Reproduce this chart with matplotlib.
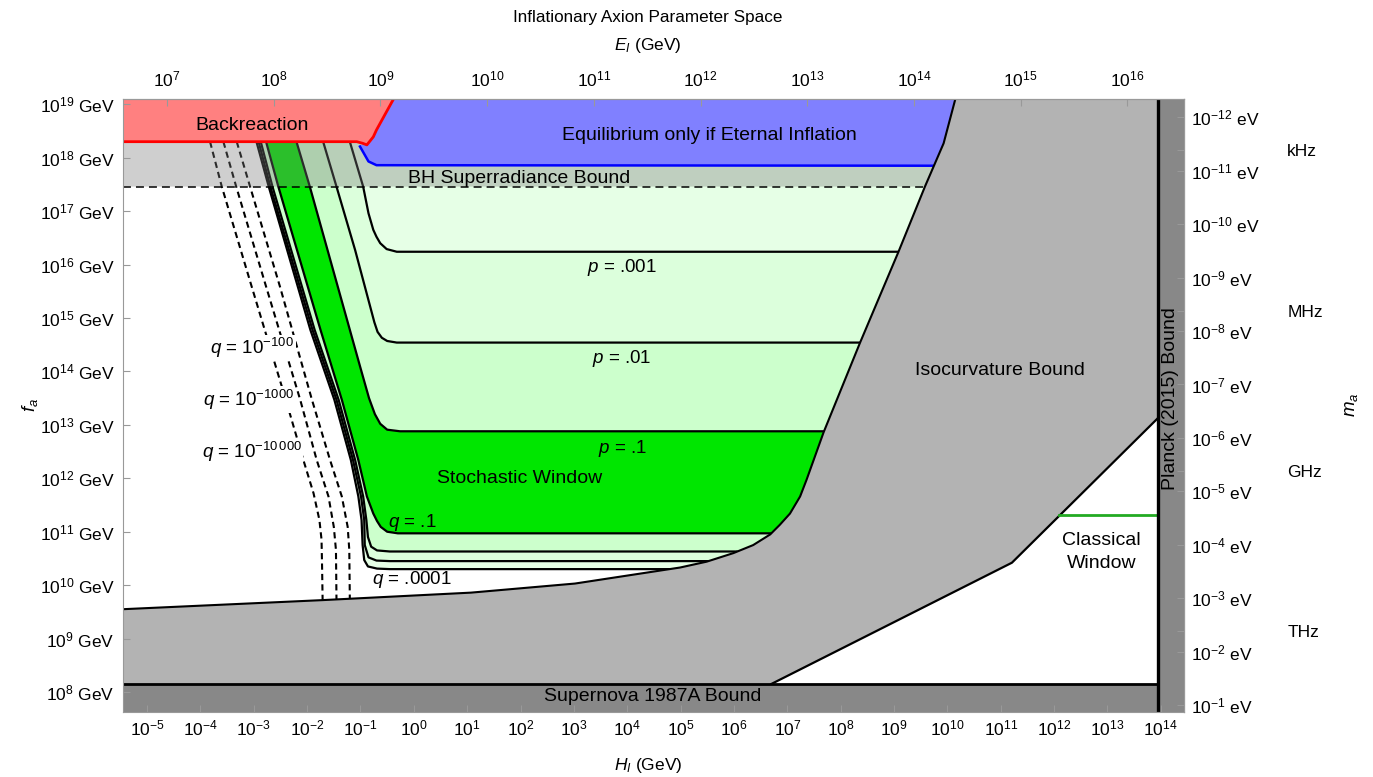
import numpy as np
import matplotlib
matplotlib.use("Agg")
import matplotlib.pyplot as plt
from matplotlib.ticker import FixedLocator, FuncFormatter, NullLocator

plt.rcParams['font.family'] = ['Liberation Sans', 'DejaVu Sans']
plt.rcParams['mathtext.fontset'] = 'custom'
plt.rcParams['mathtext.rm'] = 'Liberation Sans'
plt.rcParams['mathtext.it'] = 'Liberation Sans:italic'
plt.rcParams['mathtext.bf'] = 'Liberation Sans:bold'

# all curve values are log10 of GeV: x = H_I, y = f_a
M_PL = 2.435e18      # reduced Planck mass (GeV)
MA_FA = 5.7e6        # m_a * f_a (eV GeV)
H_PLANCK = 4.1357e-15  # eV s

X0, X1 = -5.451, 14.442
Y0, Y1 = 7.631, 19.099

# isocurvature bound
iso_h = np.array([-5.45, -1.71, 1.07, 3.02, 4.99, 5.49, 5.99, 6.36, 6.68, 6.86,
                  7.05, 7.24, 7.36, 7.68, 8.36, 9.08, 9.58, 9.74, 9.93, 10.15])
iso_f = np.array([9.55, 9.72, 9.86, 10.03, 10.33, 10.44, 10.60, 10.75, 10.95, 11.13,
                  11.34, 11.66, 11.97, 12.86, 14.53, 16.23, 17.46, 17.83, 18.27, 19.10])

# stochastic window contours (p = probability, q = fraction)
p001_h = [-1.20, -0.95, -0.85, -0.76, -0.70, -0.63, -0.51, -0.32, 9.08]
p001_f = [18.30, 17.46, 16.96, 16.65, 16.52, 16.40, 16.29, 16.24, 16.24]
p01_h = [-1.70, -1.45, -1.10, -0.74, -0.68, -0.60, -0.50, -0.32, 8.36]
p01_f = [18.30, 17.46, 16.27, 14.92, 14.74, 14.63, 14.57, 14.54, 14.54]
p1_h = [-2.20, -1.95, -1.20, -1.01, -0.84, -0.73, -0.63, -0.50, -0.26, 7.68]
p1_f = [18.30, 17.46, 14.78, 14.10, 13.50, 13.20, 13.02, 12.91, 12.88, 12.88]

q1_h = [-2.77, -2.54, -1.75, -1.35, -1.04, -0.88, -0.76, -0.69, -0.62, -0.50, -0.30, 6.68]
q1_f = [18.30, 17.46, 14.78, 13.47, 12.34, 11.66, 11.34, 11.20, 11.09, 11.00, 10.97, 10.97]
q01_h = [-2.87, -2.65, -1.86, -1.41, -1.10, -0.95, -0.89, -0.86, -0.80, -0.69, -0.45, 6.05]
q01_f = [18.30, 17.46, 14.78, 13.47, 12.34, 11.66, 11.22, 10.90, 10.72, 10.65, 10.63, 10.63]
q001_h = [-2.91, -2.69, -1.90, -1.45, -1.14, -0.99, -0.93, -0.92, -0.85, -0.70, -0.45, 5.51]
q001_f = [18.30, 17.46, 14.78, 13.47, 12.34, 11.66, 11.22, 10.75, 10.52, 10.46, 10.45, 10.45]
q0001_h = [-2.95, -2.72, -1.94, -1.49, -1.18, -1.04, -0.98, -0.96, -0.93, -0.86, -0.69, -0.45, 4.79]
q0001_f = [18.30, 17.46, 14.78, 13.47, 12.34, 11.66, 11.22, 10.75, 10.47, 10.35, 10.31, 10.30, 10.30]

# q = 10^-100, 10^-1000, 10^-10000 (dashed)
qd1_h = [-3.82, -3.60, -3.04, -2.40, -2.07, -1.88, -1.77, -1.73, -1.72, -1.71]
qd1_f = [18.30, 17.46, 15.59, 13.47, 12.34, 11.72, 11.22, 10.85, 10.35, 9.72]
qd2_h = [-3.57, -3.33, -2.77, -2.13, -1.82, -1.60, -1.50, -1.46, -1.45]
qd2_f = [18.30, 17.46, 15.59, 13.47, 12.34, 11.66, 11.09, 10.66, 9.73]
qd3_h = [-3.32, -3.07, -2.51, -1.91, -1.57, -1.35, -1.24, -1.21, -1.20]
qd3_f = [18.30, 17.46, 15.59, 13.47, 12.34, 11.66, 11.09, 10.66, 9.74]

# backreaction and eternal inflation
red_h = [X0, -1.07, -0.96, -0.88, -0.76, -0.70, -0.38]
red_f = [18.30, 18.30, 18.27, 18.24, 18.39, 18.52, 19.10]
blue_h = [-1.01, -0.85, -0.70, 9.74]
blue_f = [18.21, 17.93, 17.86, 17.85]

superrad_f = 17.46
sn_f = 8.15
planck_h = 13.94
cw_h = [6.70, 11.21, 13.94]
cw_f = [8.15, 10.42, 13.12]
cw_top_h = [12.10, 13.94]
cw_top_f = [11.31, 11.31]

freq_names = ['kHz', 'MHz', 'GHz', 'THz']
freq_hz = [1e3, 1e6, 1e9, 1e12]


def pw(a):
    return np.power(10.0, np.asarray(a, dtype=float))


def band(ax, low_h, low_f, up_h, up_f, color, z):
    # area between two contours, closed along the isocurvature edge
    sel = (iso_f > low_f[-1]) & (iso_f < up_f[-1])
    xs = np.concatenate([low_h, iso_h[sel], up_h[::-1]])
    ys = np.concatenate([low_f, iso_f[sel], up_f[::-1]])
    ax.fill(pw(xs), pw(ys), color=color, lw=0, zorder=z)


def exp_label(suffix=''):
    return FuncFormatter(lambda v, p: f'$10^{{{int(round(np.log10(v)))}}}${suffix}')


fig = plt.figure(figsize=(13.73, 7.77), dpi=100)
ax = fig.add_axes([0.0896, 0.0840, 0.7730, 0.7886])
ax.set_xscale('log')
ax.set_yscale('log')
ax.set_xlim(pw(X0), pw(X1))
ax.set_ylim(pw(Y0), pw(Y1))

# green regions
top_sel = (iso_f > p001_f[-1]) & (iso_f < 18.30)
ax.fill(pw(np.concatenate([p001_h, iso_h[top_sel]])),
        pw(np.concatenate([p001_f, iso_f[top_sel]])), color='#e6ffe6', lw=0, zorder=1)
band(ax, p01_h, p01_f, p001_h, p001_f, '#dcffdc', 1)
band(ax, p1_h, p1_f, p01_h, p01_f, '#ccffcc', 1)
band(ax, q1_h, q1_f, p1_h, p1_f, '#00e600', 1)
band(ax, q01_h, q01_f, q1_h, q1_f, '#ccffcc', 1)
band(ax, q001_h, q001_f, q01_h, q01_f, '#dcffdc', 1)
band(ax, q0001_h, q0001_f, q001_h, q001_f, '#e6ffe6', 1)

for hh, ff in [(p001_h, p001_f), (p01_h, p01_f), (p1_h, p1_f), (q1_h, q1_f),
               (q01_h, q01_f), (q001_h, q001_f), (q0001_h, q0001_f)]:
    ax.plot(pw(hh), pw(ff), color='black', lw=1.6, zorder=3, solid_joinstyle='round')
for hh, ff in [(qd1_h, qd1_f), (qd2_h, qd2_f), (qd3_h, qd3_f)]:
    ax.plot(pw(hh), pw(ff), color='black', lw=1.5, ls=(0, (3.0, 2.0)), zorder=3)

# superradiance band (translucent grey)
sr_sel = (iso_f >= superrad_f) & (iso_f <= 18.30)
ax.fill(pw(np.concatenate([[X0], iso_h[sr_sel], [X0]])),
        pw(np.concatenate([[superrad_f], iso_f[sr_sel], [18.30]])),
        color='#7a7a7a', alpha=0.36, lw=0, zorder=4)
ax.plot(pw([X0, iso_h[sr_sel][0]]), pw([superrad_f, superrad_f]),
        color='black', lw=1.1, ls=(0, (5.2, 3.3)), zorder=5)

# eternal inflation (blue) and backreaction (red)
bl_sel = iso_f > blue_f[-1]
red_h_arr = np.array(red_h)
red_f_arr = np.array(red_f)
rsel = red_h_arr > blue_h[0]
ax.fill(pw(np.concatenate([blue_h, iso_h[bl_sel], red_h_arr[rsel][::-1]])),
        pw(np.concatenate([blue_f, iso_f[bl_sel], red_f_arr[rsel][::-1]])),
        color='#8080ff', lw=0, zorder=6)
ax.plot(pw(blue_h), pw(blue_f), color='#0000ff', lw=1.8, zorder=7)
ax.fill(pw(np.concatenate([red_h, [X0]])), pw(np.concatenate([red_f, [Y1 + 0.1]])),
        color='#ff8080', lw=0, zorder=6)
ax.plot(pw(red_h), pw(red_f), color='#ff0000', lw=2, zorder=7)

# isocurvature bound
ax.fill(pw(np.concatenate([iso_h, [X1 + 0.1, X1 + 0.1, X0]])),
        pw(np.concatenate([iso_f, [Y1 + 0.1, Y0 - 0.1, Y0 - 0.1]])),
        color='#b3b3b3', lw=0, zorder=8)
ax.plot(pw(iso_h), pw(iso_f), color='black', lw=1.5, zorder=9)

# classical window
ax.fill(pw(cw_h + [cw_h[-1]]), pw(cw_f + [cw_f[0]]), color='white', lw=0, zorder=9)
ax.plot(pw(cw_h), pw(cw_f), color='black', lw=1.6, zorder=10)
ax.plot(pw(cw_top_h), pw(cw_top_f), color='#22aa22', lw=2, zorder=10)

# supernova and planck bounds
ax.fill_between(pw([X0 - 0.1, X1 + 0.1]), pw(Y0 - 0.1), pw(sn_f), color='#888888', lw=0, zorder=11)
ax.plot(pw([X0, planck_h]), pw([sn_f, sn_f]), color='black', lw=2, zorder=12)
ax.fill_betweenx(pw([Y0 - 0.1, Y1 + 0.1]), pw(planck_h), pw(X1 + 0.1), color='#888888', lw=0, zorder=11)
ax.plot(pw([planck_h, planck_h]), pw([Y0 - 0.1, Y1 + 0.1]), color='black', lw=2.4, zorder=12)

# region labels
big = 14
ax.text(pw(-3.03), pw(18.61), 'Backreaction', fontsize=big, ha='center', va='center', zorder=20)
ax.text(pw(5.53), pw(18.41), 'Equilibrium only if Eternal Inflation', fontsize=big,
        ha='center', va='center', zorder=20)
ax.text(pw(1.98), pw(17.62), 'BH Superradiance Bound', fontsize=big, ha='center', va='center', zorder=20)
ax.text(pw(10.98), pw(14.01), 'Isocurvature Bound', fontsize=big, ha='center', va='center', zorder=20)
ax.text(pw(1.98), pw(11.99), 'Stochastic Window', fontsize=big, ha='center', va='center', zorder=20)
ax.text(pw(12.89), pw(10.62), 'Classical\nWindow', fontsize=big, ha='center', va='center',
        linespacing=1.45, zorder=20)
ax.text(pw(4.47), pw(7.91), 'Supernova 1987A Bound', fontsize=big, ha='center', va='center', zorder=20)
ax.text(pw(14.18), pw(13.50), 'Planck (2015) Bound', fontsize=big, ha='center', va='center',
        rotation=90, zorder=20)

# contour labels
ax.text(pw(3.90), pw(15.94), '$p$ = .001', fontsize=13.5, ha='center', va='center', zorder=20)
ax.text(pw(3.90), pw(14.25), '$p$ = .01', fontsize=13.5, ha='center', va='center', zorder=20)
ax.text(pw(3.92), pw(12.55), '$p$ = .1', fontsize=13.5, ha='center', va='center', zorder=20)
ax.text(pw(-0.03), pw(11.18), '$q$ = .1', fontsize=13.5, ha='center', va='center', zorder=20)
ax.text(pw(-0.03), pw(10.10), '$q$ = .0001', fontsize=13.5, ha='center', va='center', zorder=20)
mask = dict(facecolor='white', edgecolor='none', pad=1.0)
ax.text(pw(-2.24), pw(14.44), '$q$ = $10^{-100}$', fontsize=13.5, ha='right', va='center',
        bbox=mask, zorder=20)
ax.text(pw(-2.25), pw(13.47), '$q$ = $10^{-1000}$', fontsize=13.5, ha='right', va='center',
        bbox=mask, zorder=20)
ax.text(pw(-2.10), pw(12.49), r'$q$ = $10^{-10\,000}$', fontsize=13.5, ha='right', va='center',
        bbox=mask, zorder=20)

# axes styling
tick_kw = dict(direction='in', length=5, width=0.8, color='#999999', labelsize=12.5)
for s in ax.spines.values():
    s.set_color('#999999')
    s.set_zorder(30)
ax.xaxis.set_zorder(30)
ax.yaxis.set_zorder(30)
ax.xaxis.set_major_locator(FixedLocator(pw(np.arange(-5, 15))))
ax.xaxis.set_minor_locator(NullLocator())
ax.xaxis.set_major_formatter(exp_label())
ax.yaxis.set_major_locator(FixedLocator(pw(np.arange(8, 20))))
ax.yaxis.set_minor_locator(NullLocator())
ax.yaxis.set_major_formatter(exp_label(' GeV'))
ax.tick_params(axis='x', pad=5, **tick_kw)
ax.tick_params(axis='y', pad=6, **tick_kw)


def h2e(h):
    h = np.asarray(h, dtype=float)
    return (3.0 * h ** 2 * M_PL ** 2) ** 0.25


def e2h(e):
    e = np.asarray(e, dtype=float)
    return e ** 2 / (np.sqrt(3.0) * M_PL)


def f2m(x):
    # m_a * f_a = const, works both ways
    x = np.array(x, dtype=float)
    zero = x == 0
    x[zero] = np.inf
    x[~zero] = MA_FA / x[~zero]
    return x


top = ax.secondary_xaxis('top', functions=(h2e, e2h))
top.set_zorder(40)
top.xaxis.set_major_locator(FixedLocator(pw(np.arange(7, 17))))
top.xaxis.set_minor_locator(NullLocator())
top.xaxis.set_major_formatter(exp_label())
top.tick_params(axis='x', pad=7, **tick_kw)

right = ax.secondary_yaxis('right', functions=(f2m, f2m))
right.set_zorder(40)
right.yaxis.set_major_locator(FixedLocator(pw(np.arange(-12, 0))))
right.yaxis.set_minor_locator(NullLocator())
right.yaxis.set_major_formatter(exp_label(' eV'))
right.tick_params(axis='y', pad=5, **tick_kw)

freq = ax.secondary_yaxis('right', functions=(f2m, f2m))
freq.set_zorder(40)
freq.yaxis.set_major_locator(FixedLocator(H_PLANCK * np.array(freq_hz)))
freq.yaxis.set_minor_locator(NullLocator())
freq.yaxis.set_major_formatter(FuncFormatter(
    lambda v, p: freq_names[int(np.argmin(np.abs(np.log10(H_PLANCK * np.array(freq_hz) / v))))]))
freq.tick_params(axis='y', pad=74, **tick_kw)
for sec in (top, right, freq):
    for s in sec.spines.values():
        s.set_color('#999999')

fig.text(0.472, 0.977, 'Inflationary Axion Parameter Space', fontsize=12.3, ha='center', va='center')
fig.text(0.472, 0.942, '$E_I$ (GeV)', fontsize=12.5, ha='center', va='center')
fig.text(0.472, 0.0154, '$H_I$ (GeV)', fontsize=12.5, ha='center', va='center')
fig.text(0.0218, 0.479, '$f_a$', fontsize=13.5, ha='center', va='center', rotation=90)
fig.text(0.9847, 0.479, '$m_a$', fontsize=13.5, ha='center', va='center', rotation=90)

fig.savefig('out.png', dpi=100)
